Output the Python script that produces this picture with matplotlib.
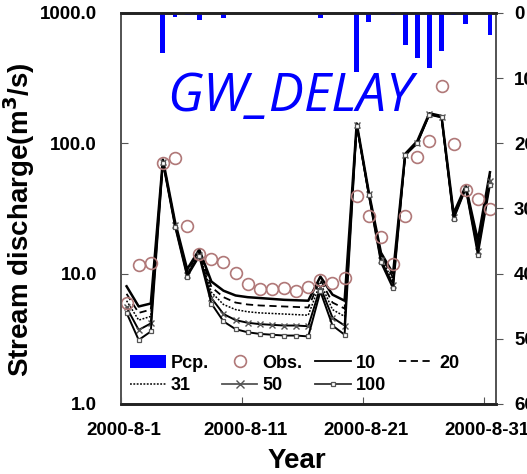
import datetime as dt
import matplotlib
matplotlib.use("Agg")
import matplotlib.pyplot as plt
import matplotlib.transforms as mtransforms
from matplotlib.lines import Line2D
from matplotlib.patches import Patch

# ---- data -------------------------------------------------------------
start = dt.datetime(2000, 8, 1, 12)
days = [start + dt.timedelta(days=i) for i in range(31)]

obs = [6.0, 11.7, 12.0, 70.4, 76.9, 23.4, 14.2, 12.9, 12.2, 10.2,
       8.3, 7.6, 7.6, 7.7, 7.3, 7.95, 8.9, 8.5, 9.3, 39.5,
       27.7, 19.2, 11.9, 27.7, 79.1, 104.3, 275.0, 98.9, 43.9, 37.2, 31.2]

sim_10 = [8.0, 5.6, 5.9, 75.0, 25.0, 10.8, 15.3, 8.7, 7.4, 6.8,
          6.6, 6.5, 6.4, 6.3, 6.25, 6.2, 9.5, 6.9, 6.2, 142.0,
          42.0, 14.5, 10.0, 83.0, 104.0, 170.0, 162.0, 29.0, 47.0, 18.0, 60.0]
sim_20 = [7.0, 5.0, 5.3, 74.0, 24.5, 10.4, 14.8, 7.9, 6.6, 6.0,
          5.8, 5.7, 5.65, 5.6, 5.55, 5.5, 9.0, 6.0, 5.4, 141.0,
          41.5, 14.0, 9.3, 82.5, 103.0, 169.0, 161.0, 28.2, 46.5, 17.0, 57.0]
sim_31 = [6.2, 4.4, 4.7, 73.0, 24.0, 10.1, 14.4, 7.2, 5.8, 5.3,
          5.1, 5.0, 4.95, 4.9, 4.85, 4.8, 8.5, 5.3, 4.7, 140.0,
          41.0, 13.3, 8.7, 82.0, 102.0, 168.0, 160.0, 27.6, 46.0, 16.0, 54.0]
sim_50 = [5.5, 3.7, 4.15, 72.0, 23.6, 9.8, 14.0, 6.5, 4.9, 4.4,
          4.2, 4.1, 4.05, 4.0, 4.0, 3.95, 7.9, 4.6, 4.0, 139.0,
          40.5, 12.7, 8.2, 81.5, 101.0, 167.0, 159.0, 27.0, 45.5, 15.0, 51.0]
sim_100 = [5.0, 3.1, 3.6, 71.0, 23.0, 9.5, 13.6, 5.9, 4.3, 3.75,
           3.55, 3.45, 3.4, 3.35, 3.35, 3.3, 7.3, 4.0, 3.4, 137.0,
           40.0, 12.2, 7.7, 81.0, 100.0, 166.0, 158.0, 26.3, 45.0, 14.0, 48.0]

pcp = [0, 0, 0, 62, 5.6, 3, 10.7, 0, 8.2, 0,
       0, 0, 0, 0, 0, 0, 8.2, 0, 0, 90,
       13.3, 0, 3, 49, 69.6, 84.9, 57.8, 3, 16.9, 0, 33.8]

tick_labels = ["2000-8-1", "2000-8-11", "2000-8-21", "2000-8-31"]
y_ticks = [1, 10, 100, 1000]
y2_ticks = [0, 100, 200, 300, 400, 500, 600]

# ---- styling ----------------------------------------------------------
plt.rcParams["font.family"] = ["Liberation Sans", "DejaVu Sans"]
plt.rcParams["font.weight"] = "bold"
FS = 13.5
obs_color = "#b07878"

fig = plt.figure(figsize=(5.27, 4.74), dpi=100)
ax = fig.add_axes([0.2287, 0.1477, 0.7125, 0.8249])
ax2 = ax.twinx()

# simulated discharge series
ax.plot(days, sim_10, color="black", lw=1.8, zorder=3)
ax.plot(days, sim_20, color="black", lw=1.3, dashes=(4, 2.5), zorder=3)
ax.plot(days, sim_31, color="black", lw=1.1, dashes=(1.2, 1.0), zorder=3)
ax.plot(days, sim_50, color="black", lw=1.4, marker="x", ms=5,
        mec="#555555", mew=1.0, zorder=3)
ax.plot(days, sim_100, color="black", lw=1.4, marker="s", ms=3.5,
        mfc="white", mec="#555555", mew=0.9, zorder=3)
# observed discharge
ax.plot(days, obs, ls="none", marker="o", ms=8.5, mfc="none",
        mec=obs_color, mew=1.2, zorder=4)

ax.set_yscale("log")
ax.set_ylim(1, 1000)
ax.set_yticks(y_ticks)
ax.set_yticklabels([f"{v:.1f}" for v in y_ticks])
ax.yaxis.set_minor_locator(matplotlib.ticker.NullLocator())

tick_pos = [dt.datetime.strptime(t, "%Y-%m-%d") for t in tick_labels]
ax.set_xlim(dt.datetime(2000, 8, 1), dt.datetime(2000, 9, 1))
ax.set_xticks(tick_pos)
ax.set_xticklabels(tick_labels)

ax.tick_params(axis="both", direction="in", length=5, labelsize=FS,
               color="#555555")
ax.tick_params(axis="y", pad=17)
ax.tick_params(axis="x", pad=13)
shift = mtransforms.ScaledTranslation(3.5 / 100, 0, fig.dpi_scale_trans)
for lbl in ax.get_xticklabels():
    lbl.set_transform(lbl.get_transform() + shift)

ax.set_ylabel("Stream discharge(m$^{\\mathbf{3}}$/s)", fontsize=20,
              fontweight="bold")
ax.yaxis.set_label_coords(-0.222, 0.47)
ax.set_xlabel("Year", fontsize=20, fontweight="bold")
ax.xaxis.set_label_coords(0.469, -0.112)

# precipitation bars hanging from the top
ax2.bar(days, pcp, width=0.4, color="#0000ff", zorder=2)
ax2.set_ylim(600, 0)
ax2.set_yticks(y2_ticks)
ax2.set_yticklabels([str(v) for v in y2_ticks])
ax2.tick_params(axis="y", direction="out", length=5, labelsize=FS, pad=8,
                color="#555555")

for a in (ax, ax2):
    for side in ("top", "bottom"):
        a.spines[side].set_linewidth(1.9)
        a.spines[side].set_color("#222222")
    for side in ("left", "right"):
        a.spines[side].set_linewidth(1.3)
        a.spines[side].set_color("#555555")

ax.text(0.451, 0.749, "GW_DELAY", transform=ax.transAxes, ha="center",
        va="baseline", color="#0000ff", fontsize=38, fontstyle="italic",
        fontweight="normal", family=["Open Sans", "DejaVu Sans"], zorder=5)

# legend, filled row by row
h_pcp = Patch(facecolor="#0000ff", edgecolor="none")
h_obs = Line2D([], [], ls="none", marker="o", ms=8.5, mfc="none",
               mec=obs_color, mew=1.2)
h10 = Line2D([], [], color="black", lw=1.3)
h20 = Line2D([], [], color="black", lw=1.3, dashes=(4, 2.5))
h31 = Line2D([], [], color="black", lw=1.1, dashes=(1.2, 1.0))
h50 = Line2D([], [], color="#555555", lw=1.3, marker="x", ms=6, mew=1.0)
h100 = Line2D([], [], color="#333333", lw=1.3, marker="s", ms=3.5,
              mfc="white", mec="#555555", mew=0.9)
handles = [h_pcp, h31, h_obs, h50, h10, h100, h20]
labels = ["Pcp.", "31", "Obs.", "50", "10", "100", "20"]
ax2.legend(handles, labels, ncol=4, loc="lower left",
           bbox_to_anchor=(0.0, 0.0), frameon=False, fontsize=13,
           handlelength=1.95, handletextpad=0.3, columnspacing=0.7,
           labelspacing=0.3, borderpad=0.3, borderaxespad=0.25)

fig.savefig("out.png", dpi=100)
